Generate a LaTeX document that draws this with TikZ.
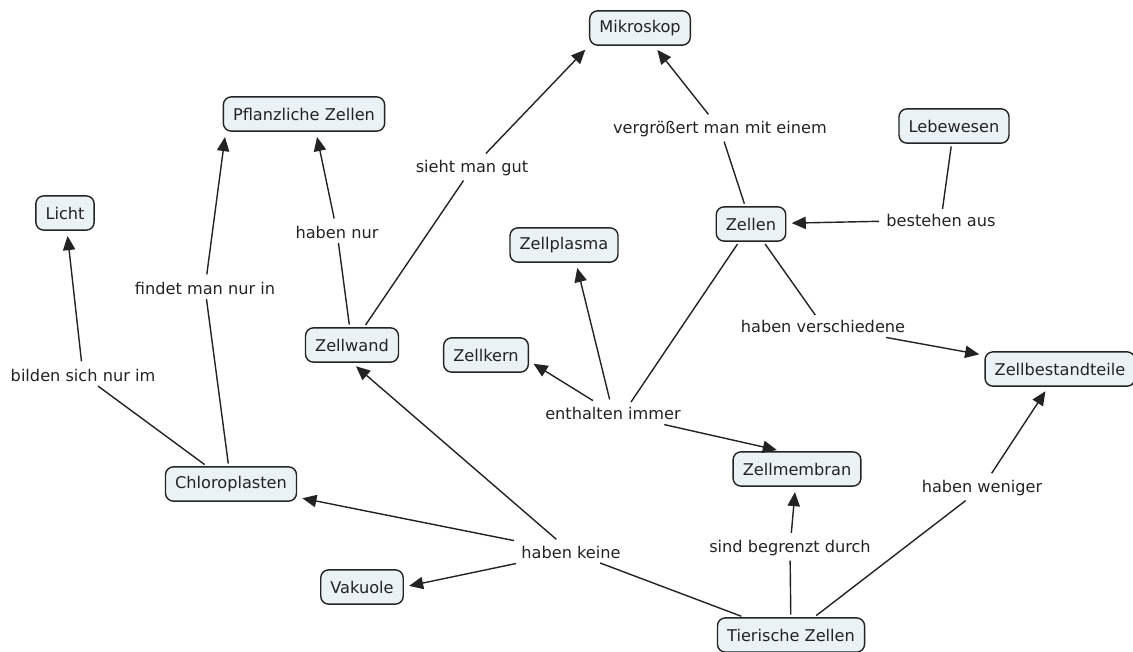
\documentclass[tikz,border=0pt]{standalone}
\usepackage{fontspec}
\setmainfont{DejaVu Sans}
\usepackage{xcolor}
\usepackage{tikz}
\usetikzlibrary{arrows.meta, calc}
\definecolor{conceptfill}{RGB}{235, 242, 245}
\definecolor{edgegray}{RGB}{35, 35, 35}

\begin{document}
\begin{tikzpicture}[
    x=0.02cm, y=-0.02cm,
    concept/.style={rectangle, draw=edgegray, fill=conceptfill, rounded corners=4.5pt, line width=0.8pt, minimum height=19.5pt, inner xsep=5.5pt, font=\fontsize{9.2}{11}\selectfont, text=edgegray},
    phrase/.style={font=\fontsize{9.2}{11}\selectfont, text=edgegray, inner sep=2.5pt},
    conn/.style={draw=edgegray, line width=0.8pt, shorten <=1.5pt},
    arrow/.style={conn, -{Triangle[length=8pt, width=7pt]}, shorten >=3pt}
]
    \useasboundingbox (0,0) rectangle (1133,652);

    % Concepts
    \node[concept] (mik) at (640,28) {Mikroskop};
    \node[concept] (pz) at (304,114) {Pflanzliche Zellen};
    \node[concept] (leb) at (954,126) {Lebewesen};
    \node[concept] (licht) at (65,213) {Licht};
    \node[concept] (zellen) at (751,224) {Zellen};
    \node[concept] (zp) at (564,245) {Zellplasma};
    \node[concept] (zw) at (352,345) {Zellwand};
    \node[concept] (zk) at (486,355) {Zellkern};
    \node[concept] (zb) at (1060,369) {Zellbestandteile};
    \node[concept] (zm) at (797,469) {Zellmembran};
    \node[concept] (chl) at (231,484) {Chloroplasten};
    \node[concept] (vak) at (362,587) {Vakuole};
    \node[concept] (tz) at (791,635) {Tierische Zellen};

    % Linking phrases
    \node[phrase] (vergr) at (720,129) {vergrößert man mit einem};
    \node[phrase] (sieht) at (472,168) {sieht man gut};
    \node[phrase] (nur) at (337,232) {haben nur};
    \node[phrase] (findet) at (205,288) {findet man nur in};
    \node[phrase] (bilden) at (83,375) {bilden sich nur im};
    \node[phrase] (besteh) at (941,220) {bestehen aus};
    \node[phrase] (versch) at (823,326) {haben verschiedene};
    \node[phrase] (enth) at (613,413) {enthalten immer};
    \node[phrase] (weniger) at (982,488) {haben weniger};
    \node[phrase] (begrenzt) at (790,548) {sind begrenzt durch};
    \node[phrase] (keine) at (571,552) {haben keine};

    % Zellen
    \draw[conn] (zellen) -- (vergr);
    \draw[arrow] (vergr) -- (mik);
    \draw[conn] (leb) -- (besteh);
    \draw[arrow] (besteh) -- (zellen);
    \draw[conn] (zellen) -- (versch);
    \draw[arrow] (versch) -- (zb);
    \draw[conn] (zellen) -- ($(enth.north)+(18,0)$);
    \draw[arrow] (enth) -- ($(zp.south)+(12,0)$);
    \draw[arrow] (enth) -- ($(zk.east)+(0,6)$);
    \draw[arrow] (enth) -- ($(zm.north)+(-15,0)$);

    % Zellwand, Chloroplasten
    \draw[conn] (zw) -- (sieht);
    \draw[arrow] (sieht) -- (mik.south west);
    \draw[conn] (zw) -- (nur);
    \draw[arrow] (nur) -- ($(pz.south)+(12,0)$);
    \draw[conn] (chl) -- (findet);
    \draw[arrow] (findet) -- ($(pz.south west)+(3,0)$);
    \draw[conn] (chl) -- (bilden);
    \draw[arrow] (bilden) -- (licht);

    % Tierische Zellen
    \draw[conn] (tz) -- (keine);
    \draw[arrow] (keine) -- (zw.south);
    \draw[arrow] (keine) -- (chl);
    \draw[arrow] (keine) -- (vak.east);
    \draw[conn] (tz) -- (begrenzt);
    \draw[arrow] (begrenzt) -- (zm);
    \draw[conn] (tz) -- (weniger);
    \draw[arrow] (weniger) -- (zb);
\end{tikzpicture}
\end{document}
